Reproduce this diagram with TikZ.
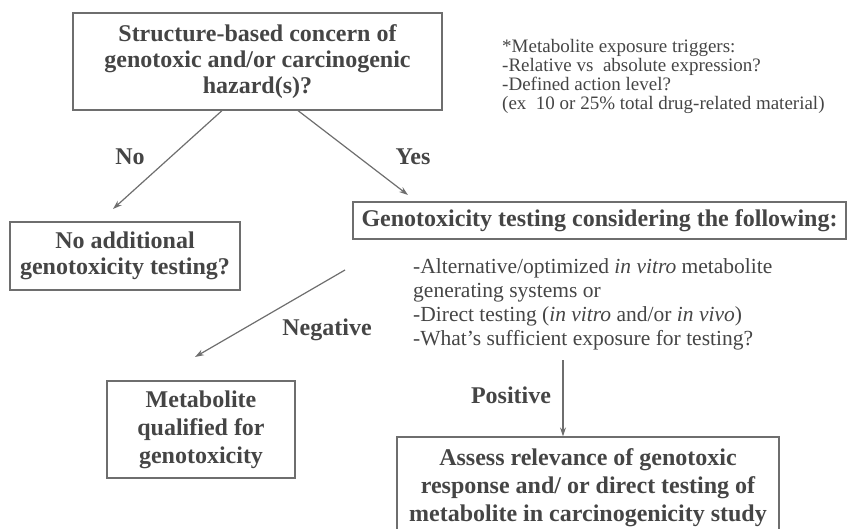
\documentclass[tikz,border=0pt]{standalone}
\usepackage{fontspec}
\setmainfont{Liberation Serif}
\usetikzlibrary{arrows.meta}
\definecolor{inkgray}{HTML}{454545}
\definecolor{linegray}{HTML}{6E6E6E}
\begin{document}
\begin{tikzpicture}[x=1pt,y=-1pt,
  box/.style={draw=linegray,line width=1.2pt,text=inkgray,align=center,inner sep=0pt,font=\bfseries\fontsize{24}{26}\selectfont},
  lbl/.style={text=inkgray,inner sep=0pt,font=\bfseries\fontsize{24}{26}\selectfont},
  txt/.style={text=inkgray,align=left,inner sep=0pt,anchor=north west},
  arr/.style={draw=linegray,line width=1.2pt,-{Stealth[length=9pt,width=6pt]}}]
\useasboundingbox (0,0) rectangle (848,529);
\clip (0,0) rectangle (848,529);
\node (hazard) at (257.5,61.5) [box,minimum width=369pt,minimum height=97pt] {Structure-based concern of\\genotoxic and/or carcinogenic\\hazard(s)?};
\node (triggers) at (502,39) [txt,font=\fontsize{19}{19}\selectfont] {*Metabolite exposure triggers:\\-Relative vs~~absolute expression?\\-Defined action level?\\(ex~~10 or 25\% total drug-related material)};
\node (noextra) at (125,256) [box,minimum width=230pt,minimum height=68pt] {No additional\\genotoxicity testing?};
\node (testing) at (599.5,220.5) [box,minimum width=493pt,minimum height=37pt] {Genotoxicity testing considering the following:};
\node (options) at (413,258) [txt,font=\fontsize{21.5}{24}\selectfont] {-Alternative/optimized \textit{in vitro} metabolite\\generating systems or\\-Direct testing (\textit{in vitro} and/or \textit{in vivo})\\-What's sufficient exposure for testing?};
\node (qualified) at (201,429.5) [box,minimum width=188pt,minimum height=97pt,font=\bfseries\fontsize{24}{28}\selectfont] {Metabolite\\qualified for\\genotoxicity};
\node (assess) at (588,488) [box,minimum width=382pt,minimum height=102pt,font=\bfseries\fontsize{24}{28}\selectfont] {Assess relevance of genotoxic\\response and/ or direct testing of\\metabolite in carcinogenicity study};
\node (no) at (130,157) [lbl] {No};
\node (yes) at (413,157) [lbl] {Yes};
\node (neg) at (327,330) [lbl] {Negative};
\node (pos) at (511,395) [lbl] {Positive};
\coordinate (noE) at (113,209);
\coordinate (yesE) at (408,195);
\coordinate (negS) at (345,270);
\coordinate (negE) at (195,357);
\coordinate (posS) at (563,360);
\draw[arr] ([xshift=-35.5pt]hazard.south) -- (noE);
\draw[arr] ([xshift=40.5pt]hazard.south) -- (yesE);
\draw[arr] (negS) -- (negE);
\draw[arr] (posS) -- ([xshift=-25pt]assess.north);
\end{tikzpicture}
\end{document}
